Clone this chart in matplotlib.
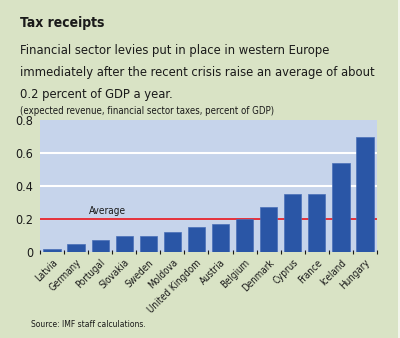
import matplotlib
matplotlib.use('Agg')
import matplotlib.pyplot as plt
from matplotlib.patches import Rectangle
import numpy as np

countries = ['Latvia', 'Germany', 'Portugal', 'Slovakia', 'Sweden', 'Moldova',
             'United Kingdom', 'Austria', 'Belgium', 'Denmark', 'Cyprus',
             'France', 'Iceland', 'Hungary']
levies = [0.02, 0.05, 0.07, 0.10, 0.10, 0.12, 0.15, 0.17, 0.20, 0.27,
          0.35, 0.35, 0.54, 0.70]
average = 0.2
yticks = [0, 0.2, 0.4, 0.6, 0.8]
ytick_labels = ['0', '0.2', '0.4', '0.6', '0.8']
subtitle_lines = ['Financial sector levies put in place in western Europe',
                  'immediately after the recent crisis raise an average of about',
                  '0.2 percent of GDP a year.']

W, H = 400, 338
BG = '#d9e3c5'
PANEL = '#c6d4eb'
BAR = '#2a56a6'
RED = '#e3202b'
INK = '#1a1a1a'

plt.rcParams['font.family'] = ['DejaVu Sans']
plt.rcParams['font.stretch'] = 'condensed'

fig = plt.figure(figsize=(W / 100, H / 100), dpi=100, facecolor=BG)
# thin light strip on the right edge of the panel
fig.patches.append(Rectangle((1 - 2 / W, 0), 2 / W, 1, transform=fig.transFigure,
                             facecolor='#f2f5ec', edgecolor='none'))

# header text, positioned by baseline in pixels
fig.text(20 / W, 1 - 27 / H, 'Tax receipts', fontsize=10,
         fontweight='bold', color=INK, va='baseline')
for i, line in enumerate(subtitle_lines):
    fig.text(20 / W, 1 - (54 + 22 * i) / H, line, fontsize=9.3,
             color=INK, va='baseline')
fig.text(20 / W, 1 - 114 / H,
         '(expected revenue, financial sector taxes, percent of GDP)',
         fontsize=6.9, color=INK, va='baseline')
fig.text(31 / W, 1 - 327 / H, 'Source: IMF staff calculations.',
         fontsize=6.1, color=INK, va='baseline')

ax = fig.add_axes([40 / W, 1 - 252 / H, 337 / W, 132 / H])
ax.set_facecolor(PANEL)
x = np.arange(len(countries))
ax.bar(x, levies, width=0.72, color=BAR, edgecolor='#4a70b8', linewidth=0.5,
       zorder=3)
ax.set_xlim(-0.5, len(countries) - 0.5)
ax.set_ylim(0, 0.8)

for y in yticks[1:-1]:
    ax.axhline(y, color='white', linewidth=1.5, zorder=1)
ax.axhline(average, color=RED, linewidth=1.3, zorder=2)
ax.text(2.3, average + 0.03, 'Average', fontsize=7.2, color=INK,
        va='baseline', ha='center')

for s in ax.spines.values():
    s.set_visible(False)

ax.set_yticks(yticks)
ax.set_yticklabels(ytick_labels, fontsize=9)
ax.tick_params(axis='y', length=0, pad=5, labelcolor=INK)

ax.set_xticks(x)
ax.set_xticklabels(countries, rotation=45, ha='right', rotation_mode='anchor',
                   fontsize=7)
ax.tick_params(axis='x', which='major', length=0, pad=4, labelcolor=INK)
ax.set_xticks(np.arange(len(countries) + 1) - 0.5, minor=True)
ax.tick_params(axis='x', which='minor', length=2.5, width=0.8,
               color=INK, direction='inout')

fig.savefig('out.png', dpi=100, facecolor=BG)
